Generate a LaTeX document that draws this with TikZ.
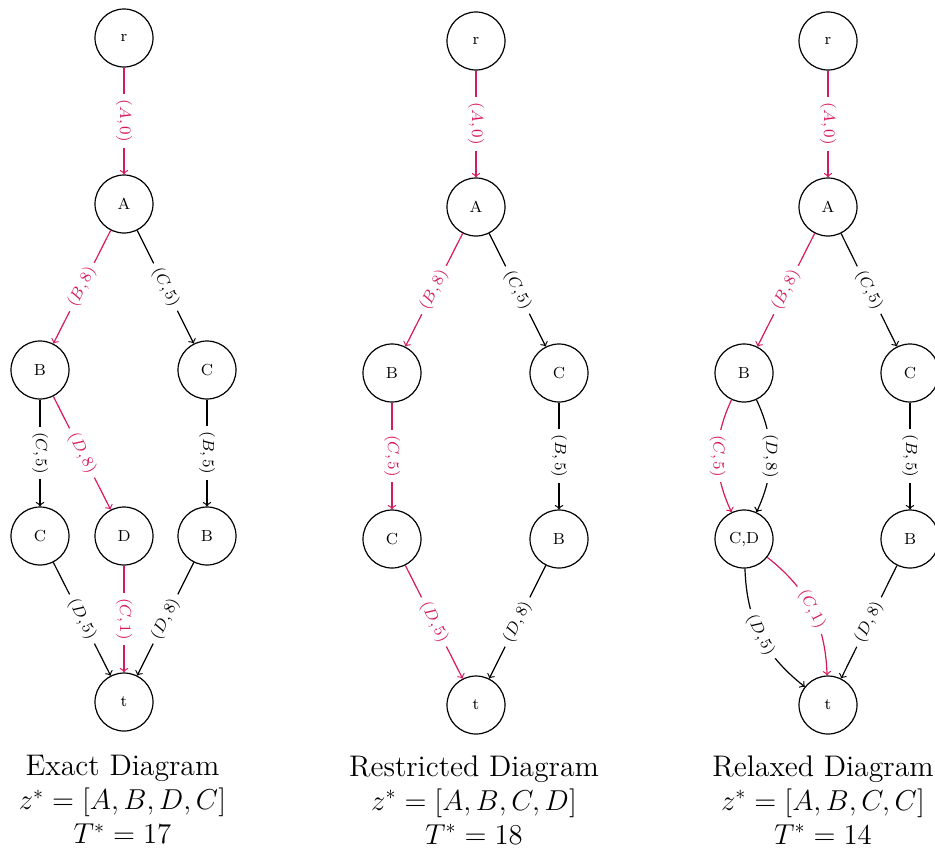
\documentclass[tikz,border=0pt]{standalone}
\definecolor{hl}{RGB}{215,25,95}
\begin{document}
\begin{tikzpicture}[x=0.5pt,y=-0.5pt,
  st/.style={circle,draw,line width=0.6pt,minimum size=29pt,inner sep=0pt,font=\footnotesize},
  ed/.style={->,line width=0.6pt},
  hp/.style={ed,color=hl},
  lab/.style={sloped,midway,fill=white,font=\fontsize{8.5}{10}\selectfont,inner sep=2.8pt},
  ttl/.style={anchor=north,align=center,inner sep=0pt,font=\fontsize{14.9}{17}\selectfont}]
\useasboundingbox (0,0) rectangle (935,851);
% ---------- Exact ----------
\node[st] (er) at (124,38) {r};
\node[st] (eA) at (124,204) {A};
\node[st] (eB) at (40,370) {B};
\node[st] (eC) at (207,370) {C};
\node[st] (eC2) at (40,536) {C};
\node[st] (eD) at (124,536) {D};
\node[st] (eB2) at (207,536) {B};
\node[st] (et) at (124,702) {t};
\draw[hp] (er) -- node[lab]{$(A,0)$} (eA);
\draw[hp] (eA) -- node[lab]{$(B,8)$} (eB);
\draw[ed] (eA) -- node[lab]{$(C,5)$} (eC);
\draw[ed] (eB) -- node[lab]{$(C,5)$} (eC2);
\draw[hp] (eB) -- node[lab]{$(D,8)$} (eD);
\draw[ed] (eC) -- node[lab]{$(B,5)$} (eB2);
\draw[ed] (eC2) -- node[lab]{$(D,5)$} (et);
\draw[hp] (eD) -- node[lab]{$(C,1)$} (et);
\draw[ed] (eB2) -- node[lab]{$(D,8)$} (et);
\node[ttl] (etl) at (122.5,755) {Exact Diagram\\$z^*=[A,B,D,C]$\\$T^*=17$};
% ---------- Restricted ----------
\node[st] (rr) at (476,41) {r};
\node[st] (rA) at (476,207) {A};
\node[st] (rB) at (392,373) {B};
\node[st] (rC) at (559,373) {C};
\node[st] (rC2) at (392,539) {C};
\node[st] (rB2) at (559,539) {B};
\node[st] (rt) at (476,705) {t};
\draw[hp] (rr) -- node[lab]{$(A,0)$} (rA);
\draw[hp] (rA) -- node[lab]{$(B,8)$} (rB);
\draw[ed] (rA) -- node[lab]{$(C,5)$} (rC);
\draw[hp] (rB) -- node[lab]{$(C,5)$} (rC2);
\draw[ed] (rC) -- node[lab]{$(B,5)$} (rB2);
\draw[hp] (rC2) -- node[lab]{$(D,5)$} (rt);
\draw[ed] (rB2) -- node[lab]{$(D,8)$} (rt);
\node[ttl] (rtl) at (474,755) {Restricted Diagram\\$z^*=[A,B,C,D]$\\$T^*=18$};
% ---------- Relaxed ----------
\node[st] (xr) at (828,41) {r};
\node[st] (xA) at (828,207) {A};
\node[st] (xB) at (744,373) {B};
\node[st] (xC) at (910,373) {C};
\node[st] (xCD) at (744,539) {C,D};
\node[st] (xB2) at (910,539) {B};
\node[st] (xt) at (828,705) {t};
\draw[hp] (xr) -- node[lab]{$(A,0)$} (xA);
\draw[hp] (xA) -- node[lab]{$(B,8)$} (xB);
\draw[ed] (xA) -- node[lab]{$(C,5)$} (xC);
\draw[hp] (xB) to[bend right=25] node[lab]{$(C,5)$} (xCD);
\draw[ed] (xB) to[bend left=25] node[lab]{$(D,8)$} (xCD);
\draw[ed] (xC) -- node[lab]{$(B,5)$} (xB2);
\draw[ed] (xCD) to[bend right=25] node[lab]{$(D,5)$} (xt);
\draw[hp] (xCD) to[bend left=25] node[lab]{$(C,1)$} (xt);
\draw[ed] (xB2) -- node[lab]{$(D,8)$} (xt);
\node[ttl] (xtl) at (823,755) {Relaxed Diagram\\$z^*=[A,B,C,C]$\\$T^*=14$};
\end{tikzpicture}
\end{document}
